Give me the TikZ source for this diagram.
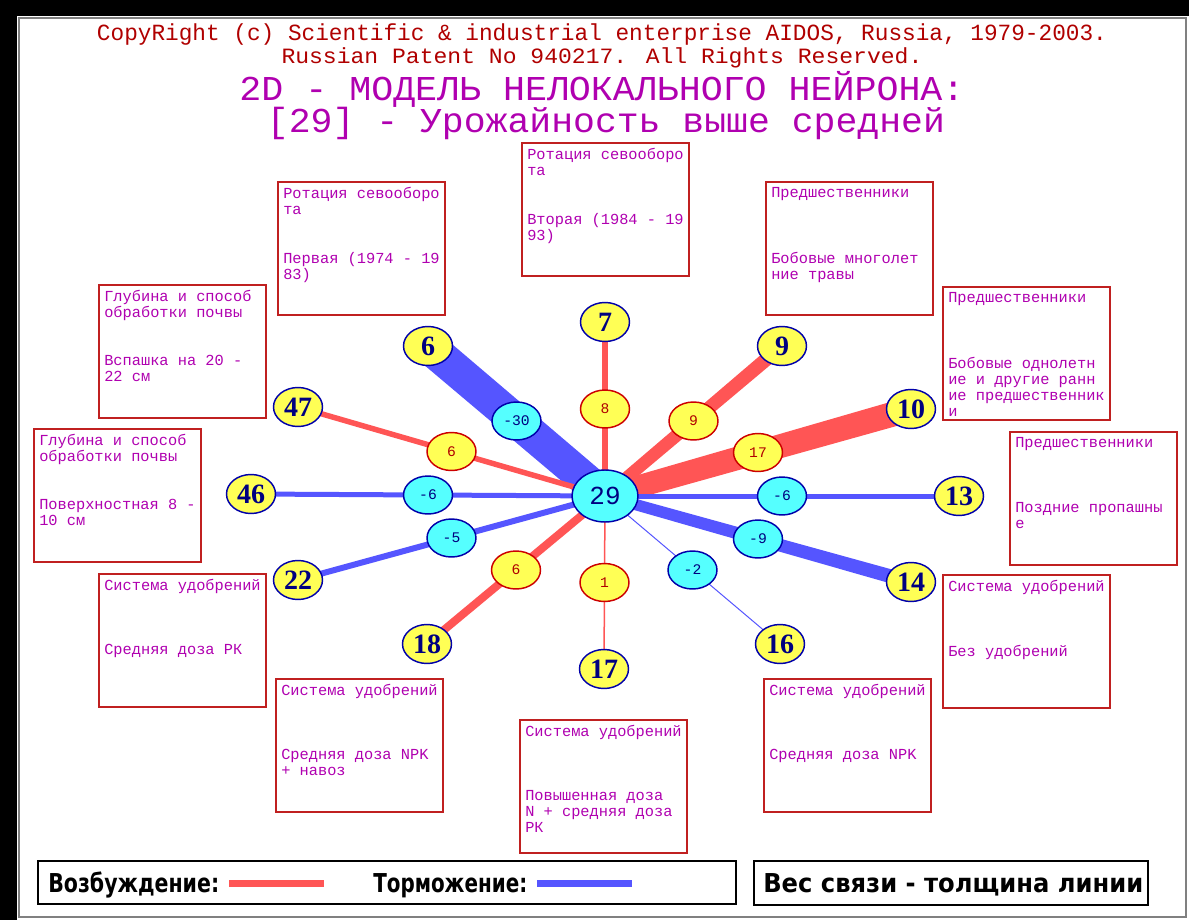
\documentclass[tikz,border=0pt]{standalone}
\usepackage{fontspec}
\setmainfont{Liberation Sans}
\newfontfamily\monofont{Liberation Mono}
\newfontfamily\serifnum{Liberation Serif}
\newfontfamily\legfont{DejaVu Sans}
\usetikzlibrary{shapes.geometric,calc}
\definecolor{hdrred}{HTML}{B00000}
\definecolor{ttlpurple}{HTML}{B000B0}
\definecolor{boxred}{HTML}{C02020}
\definecolor{boxtxt}{HTML}{B000B0}
\definecolor{exc}{HTML}{FF5555}
\definecolor{inh}{HTML}{5555FF}
\definecolor{nyellow}{HTML}{FFFF55}
\definecolor{ncyan}{HTML}{55FFFF}
\definecolor{nborder}{HTML}{0000AA}
\definecolor{numblue}{HTML}{000080}
\definecolor{wred}{HTML}{B00000}
\definecolor{framegray}{HTML}{808080}
\newcommand{\fitw}[3]{\resizebox{#1}{#2\height}{#3}}
\newcommand{\link}[4]{%
  \fill[#1] ($(hub.center)!#3*0.75pt!90:(#2.center)$) --
            ($(#2.center)!#4*0.75pt!-90:(hub.center)$) --
            ($(#2.center)!#4*0.75pt!90:(hub.center)$) --
            ($(hub.center)!#3*0.75pt!-90:(#2.center)$) -- cycle;}
\tikzset{
  infobox/.style={draw=boxred, line width=1.5pt, fill=white, anchor=north west,
    minimum width=125.25pt, minimum height=99.75pt, inner sep=0pt},
  boxtext/.style={anchor=north west, inner sep=0pt, align=left, text=boxtxt,
    font=\monofont\fontsize{11.5pt}{12.15pt}\selectfont},
  outer/.style={ellipse, draw=nborder, line width=1.1pt, fill=nyellow,
    minimum width=36.75pt, minimum height=29.25pt, inner sep=0pt, text=numblue,
    font=\serifnum\bfseries\fontsize{21pt}{21pt}\selectfont},
  hubnode/.style={ellipse, draw=nborder, line width=1.1pt, fill=ncyan,
    minimum width=49.5pt, minimum height=39pt, inner sep=0pt, text=numblue,
    font=\monofont\fontsize{19.5pt}{20pt}\selectfont},
  wexc/.style={ellipse, draw=red!80!black, line width=1.1pt, fill=nyellow,
    minimum width=36.75pt, minimum height=28.5pt, inner sep=0pt, text=wred,
    font=\monofont\fontsize{11pt}{11pt}\selectfont},
  winh/.style={ellipse, draw=nborder, line width=1.1pt, fill=ncyan,
    minimum width=36.75pt, minimum height=28.5pt, inner sep=0pt, text=numblue,
    font=\monofont\fontsize{11pt}{11pt}\selectfont},
  legtext/.style={anchor=base west, inner sep=0pt, text=black,
    font=\legfont\bfseries\fontsize{19.5pt}{20pt}\selectfont},
}
\begin{document}
\begin{tikzpicture}[x=0.75pt,y=-0.75pt]
\useasboundingbox (0,0) rectangle (1189,920);
\fill[white] (0,0) rectangle (1189,920);
% frame
\fill[black] (0,0) rectangle (1189,16);
\fill[black] (0,0) rectangle (17,920);
\draw[framegray, line width=1.5pt] (19,18) rectangle (1186,917);

% header
\node[anchor=base, inner sep=0pt, text=hdrred, font=\monofont\fontsize{19.3pt}{20pt}\selectfont] (hdr1) at (602,41)
  {\fitw{757.5pt}{0.9}{CopyRight (c) Scientific \& industrial enterprise AIDOS, Russia, 1979-2003.}};
\node[anchor=base, inner sep=0pt, text=hdrred, font=\monofont\fontsize{18.2pt}{19pt}\selectfont] (hdr2) at (602,64)
  {\fitw{480.75pt}{0.9}{Russian Patent No 940217. All Rights Reserved.}};
\node[anchor=base, inner sep=0pt, text=ttlpurple, font=\monofont\fontsize{26.2pt}{27pt}\selectfont] (ttl1) at (602,101)
  {\fitw{543.75pt}{1}{2D - МОДЕЛЬ НЕЛОКАЛЬНОГО НЕЙРОНА:}};
\node[anchor=base, inner sep=0pt, text=ttlpurple, font=\monofont\fontsize{26.2pt}{27pt}\selectfont] (ttl2) at (606,133)
  {\fitw{508.5pt}{1}{[29] - Урожайность выше средней}};

% info boxes
\node[infobox] (b1) at (521,142) {};
\node[boxtext] (b1a) at (527,148) {Ротация севооборо\\та};
\node[boxtext] (b1b) at (527,212.8) {Вторая (1984 - 19\\93)};

\node[infobox] (b2) at (277,181) {};
\node[boxtext] (b2a) at (283,187) {Ротация севооборо\\та};
\node[boxtext] (b2b) at (283,251.8) {Первая (1974 - 19\\83)};

\node[infobox] (b3) at (98,284) {};
\node[boxtext] (b3a) at (104,290) {Глубина и способ\\обработки почвы};
\node[boxtext] (b3b) at (104,354.8) {Вспашка на 20 -\\22 см};

\node[infobox] (b4) at (33,428) {};
\node[boxtext] (b4a) at (39,434) {Глубина и способ\\обработки почвы};
\node[boxtext] (b4b) at (39,498.8) {Поверхностная 8 -\\10 см};

\node[infobox] (b5) at (765,181) {};
\node[boxtext] (b5a) at (771,187) {Предшественники};
\node[boxtext] (b5b) at (771,251.8) {Бобовые многолет\\ние травы};

\node[infobox] (b6) at (942,286) {};
\node[boxtext] (b6a) at (948,292) {Предшественники};
\node[boxtext] (b6b) at (948,356.8) {Бобовые однолетн\\ие и другие ранн\\ие предшественник\\и};

\node[infobox] (b7) at (1009,431) {};
\node[boxtext] (b7a) at (1015,437) {Предшественники};
\node[boxtext] (b7b) at (1015,501.8) {Поздние пропашны\\е};

\node[infobox] (b8) at (942,574) {};
\node[boxtext] (b8a) at (948,580) {Система удобрений};
\node[boxtext] (b8b) at (948,644.8) {Без удобрений};

\node[infobox] (b9) at (98,573) {};
\node[boxtext] (b9a) at (104,579) {Система удобрений};
\node[boxtext] (b9b) at (104,643.8) {Средняя доза РК};

\node[infobox] (b10) at (275,678) {};
\node[boxtext] (b10a) at (281,684) {Система удобрений};
\node[boxtext] (b10b) at (281,748.8) {Средняя доза NPK\\+ навоз};

\node[infobox] (b11) at (519,719) {};
\node[boxtext] (b11a) at (525,725) {Система удобрений};
\node[boxtext] (b11b) at (525,789.8) {Повышенная доза\\N + средняя доза\\РК};

\node[infobox] (b12) at (763,678) {};
\node[boxtext] (b12a) at (769,684) {Система удобрений};
\node[boxtext] (b12b) at (769,748.8) {Средняя доза NPK};

% neuron coordinates
\coordinate (hub) at (605,496);
\coordinate (n6) at (428,346);
\coordinate (n7) at (605,322);
\coordinate (n9) at (782,346);
\coordinate (n10) at (911,409);
\coordinate (n47) at (298,407);
\coordinate (n46) at (251,494);
\coordinate (n13) at (959,496);
\coordinate (n22) at (298,580);
\coordinate (n18) at (427,644);
\coordinate (n17) at (604,669);
\coordinate (n16) at (780,644);
\coordinate (n14) at (911,582);

% links (half widths in px: at hub, at outer neuron)
\link{inh}{n6}{16.5}{17}
\link{exc}{n7}{3.25}{3.25}
\link{exc}{n9}{6}{7}
\link{exc}{n10}{11}{12.5}
\link{exc}{n47}{2.75}{2.75}
\link{inh}{n46}{2.5}{2.5}
\link{inh}{n13}{2.5}{2.5}
\link{inh}{n22}{3}{3}
\link{exc}{n18}{4}{4}
\link{exc}{n17}{0.75}{0.75}
\link{inh}{n16}{0.5}{0.5}
\link{inh}{n14}{5.5}{7}

% weight nodes
\node[winh] (w6) at ($(hub)!0.5!(n6)$) {-30};
\node[wexc] (w7) at ($(hub)!0.5!(n7)$) {8};
\node[wexc] (w9) at ($(hub)!0.5!(n9)$) {9};
\node[wexc] (w10) at ($(hub)!0.5!(n10)$) {17};
\node[wexc] (w47) at ($(hub)!0.5!(n47)$) {6};
\node[winh] (w46) at ($(hub)!0.5!(n46)$) {-6};
\node[winh] (w13) at ($(hub)!0.5!(n13)$) {-6};
\node[winh] (w22) at ($(hub)!0.5!(n22)$) {-5};
\node[wexc] (w18) at ($(hub)!0.5!(n18)$) {6};
\node[wexc] (w17) at ($(hub)!0.5!(n17)$) {1};
\node[winh] (w16) at ($(hub)!0.5!(n16)$) {-2};
\node[winh] (w14) at ($(hub)!0.5!(n14)$) {-9};

% outer neurons
\node[outer] (o6) at (n6) {6};
\node[outer] (o7) at (n7) {7};
\node[outer] (o9) at (n9) {9};
\node[outer] (o10) at (n10) {10};
\node[outer] (o47) at (n47) {47};
\node[outer] (o46) at (n46) {46};
\node[outer] (o13) at (n13) {13};
\node[outer] (o22) at (n22) {22};
\node[outer] (o18) at (n18) {18};
\node[outer] (o17) at (n17) {17};
\node[outer] (o16) at (n16) {16};
\node[outer] (o14) at (n14) {14};
\node[hubnode] (h29) at (hub) {29};

% legend
\draw[black, line width=1.5pt] (38,861) rectangle (736,904);
\node[legtext] (lg1) at (48,892) {\fitw{128.25pt}{1}{Возбуждение:}};
\coordinate (le1) at (229,883);
\coordinate (le2) at (324,883);
\draw[exc, line width=5.25pt] (le1) -- (le2);
\node[legtext] (lg2) at (373,892) {\fitw{115.5pt}{1}{Торможение:}};
\coordinate (li1) at (537,883);
\coordinate (li2) at (632,883);
\draw[inh, line width=5.25pt] (li1) -- (li2);
\draw[black, line width=1.5pt] (754,861) rectangle (1148,905);
\node[legtext] (lg3) at (763,892) {\fitw{285pt}{1}{Вес связи - толщина линии}};
\end{tikzpicture}
\end{document}
